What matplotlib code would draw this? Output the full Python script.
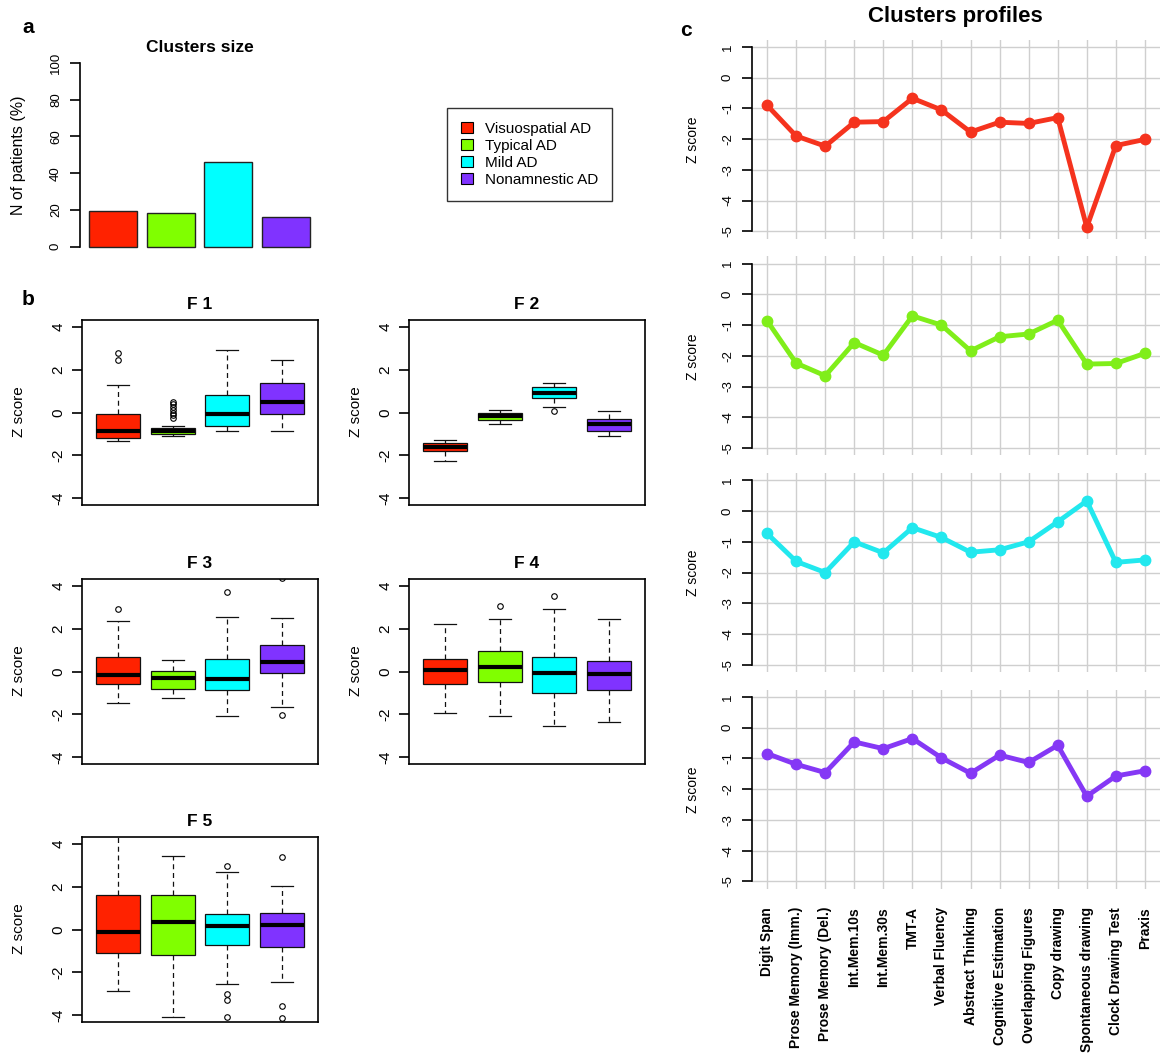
import matplotlib
matplotlib.use('Agg')
import matplotlib.pyplot as plt
from matplotlib.patches import Patch

plt.rcParams['font.family'] = ['Liberation Sans', 'DejaVu Sans']
plt.rcParams['axes.unicode_minus'] = False

# ---- data ----
clusters = ['Visuospatial AD', 'Typical AD', 'Mild AD', 'Nonamnestic AD']
colors = ['#FF2200', '#80FF00', '#00FFFF', '#8033FF']
line_colors = ['#F5331E', '#80EE1A', '#22E8EE', '#8538F5']

size_pct = [19.5, 18.3, 46.0, 16.2]

factors = ['F 1', 'F 2', 'F 3', 'F 4', 'F 5']
# rows = factors, columns = clusters
box_med = [[-0.88, -0.85, -0.08, 0.49],
           [-1.62, -0.17, 0.93, -0.55],
           [-0.17, -0.31, -0.33, 0.43],
           [0.08, 0.19, -0.08, -0.10],
           [-0.12, 0.36, 0.16, 0.20]]
box_q1 = [[-1.20, -1.00, -0.63, -0.08],
          [-1.78, -0.33, 0.69, -0.85],
          [-0.57, -0.80, -0.87, -0.08],
          [-0.60, -0.47, -1.02, -0.85],
          [-1.10, -1.21, -0.74, -0.82]]
box_q3 = [[-0.09, -0.74, 0.83, 1.37],
          [-1.42, -0.02, 1.18, -0.30],
          [0.69, 0.02, 0.58, 1.24],
          [0.58, 0.94, 0.68, 0.50],
          [1.63, 1.63, 0.73, 0.76]]
box_lo = [[-1.34, -1.12, -0.87, -0.88],
          [-2.28, -0.55, 0.27, -1.10],
          [-1.48, -1.26, -2.06, -1.67],
          [-1.94, -2.06, -2.54, -2.35],
          [-2.88, -4.08, -2.53, -2.45]]
box_hi = [[1.29, -0.61, 2.94, 2.43],
          [-1.28, 0.11, 1.37, 0.05],
          [2.35, 0.54, 2.55, 2.50],
          [2.20, 2.46, 2.93, 2.45],
          [4.60, 3.41, 2.67, 2.02]]
box_out = [[[2.79, 2.47], [0.50, 0.38, 0.25, 0.12, 0.0, -0.12, -0.25], [], []],
           [[], [], [0.06], []],
           [[2.90], [], [3.70], [4.35, -2.02]],
           [[], [3.07], [3.53], []],
           [[], [], [2.98, -3.00, -3.30, -4.10], [3.40, -3.55, -4.15]]]

tests = ['Digit Span', 'Prose Memory (Imm.)', 'Prose Memory (Del.)', 'Int.Mem.10s',
         'Int.Mem.30s', 'TMT-A', 'Verbal Fluency', 'Abstract Thinking',
         'Cognitive Estimation', 'Overlapping Figures', 'Copy drawing',
         'Spontaneous drawing', 'Clock Drawing Test', 'Praxis']
profile_visuospatial = [-0.90, -1.90, -2.23, -1.45, -1.43, -0.67, -1.05, -1.77, -1.45, -1.49, -1.30, -4.87, -2.21, -2.01]
profile_typical = [-0.86, -2.24, -2.65, -1.57, -1.98, -0.70, -1.00, -1.84, -1.38, -1.29, -0.84, -2.27, -2.25, -1.92]
profile_mild = [-0.73, -1.64, -2.00, -1.00, -1.36, -0.54, -0.86, -1.34, -1.26, -1.00, -0.35, 0.33, -1.67, -1.59]
profile_nonamnestic = [-0.84, -1.19, -1.46, -0.46, -0.68, -0.35, -0.98, -1.48, -0.89, -1.13, -0.57, -2.23, -1.57, -1.40]
profiles = [profile_visuospatial, profile_typical, profile_mild, profile_nonamnestic]

# ---- layout helpers (pixel coords of the 1166x1053 canvas) ----
W, H = 1166, 1053
fig = plt.figure(figsize=(W / 100, H / 100), dpi=100)


def add_ax(l, t, r, b):
    return fig.add_axes([l / W, 1 - b / H, (r - l) / W, (b - t) / H])


def text_px(x, y, s, **kw):
    fig.text(x / W, 1 - y / H, s, **kw)


# ---- panel a: cluster sizes ----
ax = add_ax(80, 55.6, 319, 254)
xb = [0.7, 1.9, 3.1, 4.3]
ax.bar(xb, size_pct, width=1, color=colors, edgecolor='#222222', linewidth=1)
ax.set_xlim(0.016, 4.984)
ax.set_ylim(-4, 104)
ax.set_yticks([0, 20, 40, 60, 80, 100])
ax.set_xticks([])
for s in ['top', 'right', 'bottom']:
    ax.spines[s].set_visible(False)
ax.spines['left'].set_bounds(0, 100)
ax.spines['left'].set_linewidth(1.2)
ax.tick_params(axis='y', labelsize=9.5, length=7, width=1.2, pad=6, labelrotation=90)
for lab in ax.get_yticklabels():
    lab.set_va('center')
text_px(19, 155, 'N of patients (%)', rotation=90, ha='center', va='center', fontsize=11.5)
text_px(200, 51.7, 'Clusters size', ha='center', va='baseline', fontsize=12.5, fontweight='bold')
text_px(22, 33, 'a', ha='left', va='baseline', fontsize=15, fontweight='bold')

# legend
handles = [Patch(facecolor=c, edgecolor='black', linewidth=0.8) for c in colors]
leg = fig.legend(handles, clusters, loc='upper left', bbox_to_anchor=(447 / W, 1 - 108 / H),
                 frameon=True, fancybox=False, edgecolor='black', fontsize=11,
                 handlelength=0.8, handleheight=0.7, handletextpad=0.8,
                 labelspacing=0.2, borderpad=0.9, borderaxespad=0)
leg.get_frame().set_linewidth(1.0)

# ---- panel b: factor boxplots ----
lefts = [82, 409]
tops = [320, 579, 837]
for i, name in enumerate(factors):
    l = lefts[i % 2]
    t = tops[i // 2]
    ax = add_ax(l, t, l + 236, t + 185)
    stats = []
    for j in range(4):
        stats.append(dict(med=box_med[i][j], q1=box_q1[i][j], q3=box_q3[i][j],
                          whislo=box_lo[i][j], whishi=box_hi[i][j],
                          fliers=box_out[i][j]))
    bp = ax.bxp(stats, positions=[1, 2, 3, 4], widths=0.8, capwidths=0.4,
                patch_artist=True, showfliers=True,
                boxprops=dict(edgecolor='#111111', linewidth=0.9),
                whiskerprops=dict(linestyle=(0, (4, 3)), linewidth=0.9, color='#111111'),
                capprops=dict(linewidth=0.9, color='#111111'),
                medianprops=dict(color='black', linewidth=3, solid_capstyle='butt'),
                flierprops=dict(marker='o', markerfacecolor='none', markeredgecolor='black',
                                markersize=4, markeredgewidth=0.8))
    for patch, c in zip(bp['boxes'], colors):
        patch.set_facecolor(c)
    ax.set_xlim(0.34, 4.66)
    ax.set_ylim(-4.32, 4.32)
    ax.set_xticks([])
    ax.set_yticks([-4, -2, 0, 2, 4])
    for s in ax.spines.values():
        s.set_linewidth(1.2)
    ax.tick_params(axis='y', labelsize=11, length=7, width=1.2, pad=5, labelrotation=90)
    for lab in ax.get_yticklabels():
        lab.set_va('center')
    text_px(l + 118, t - 11, name, ha='center', va='baseline', fontsize=12.5, fontweight='bold')
    text_px(l - 63 if i % 2 == 0 else l - 53, t + 92, 'Z score', rotation=90,
            ha='center', va='center', fontsize=11)
text_px(22, 305, 'b', ha='left', va='baseline', fontsize=15, fontweight='bold')

# ---- panel c: cluster profiles ----
x = list(range(1, len(tests) + 1))
ctops = [39.6, 256.3, 473, 689.7]
for k, prof in enumerate(profiles):
    t = ctops[k]
    ax = add_ax(752, t, 1160, t + 199)
    ax.set_axisbelow(True)
    ax.grid(True, color='#CFCFCF', linewidth=1)
    ax.plot(x, prof, '-o', color=line_colors[k], linewidth=3.5, markersize=7.5)
    ax.set_xlim(0.48, 14.52)
    ax.set_ylim(-5.24, 1.24)
    ax.set_xticks(x)
    ax.set_yticks([-5, -4, -3, -2, -1, 0, 1])
    for s in ['top', 'right', 'bottom']:
        ax.spines[s].set_visible(False)
    ax.spines['left'].set_bounds(-5, 1)
    ax.spines['left'].set_linewidth(1.2)
    ax.tick_params(axis='y', labelsize=9.5, length=7, width=1.2, pad=6, labelrotation=90)
    for lab in ax.get_yticklabels():
        lab.set_va('center')
    if k == len(profiles) - 1:
        ax.set_xticklabels(tests, rotation=90, fontsize=10, fontweight='bold')
        ax.tick_params(axis='x', length=0, pad=13)
    else:
        ax.set_xticklabels([])
        ax.tick_params(axis='x', length=0)
    text_px(693, t + 100, 'Z score', rotation=90, ha='center', va='center', fontsize=10)
text_px(955, 21.7, 'Clusters profiles', ha='center', va='baseline', fontsize=16, fontweight='bold')
text_px(680, 36, 'c', ha='left', va='baseline', fontsize=15, fontweight='bold')

fig.savefig('out.png', dpi=100)
